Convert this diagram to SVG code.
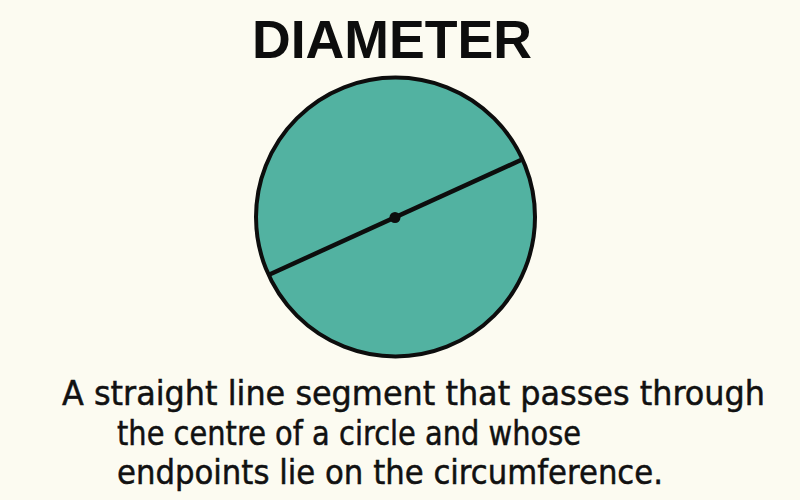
<svg xmlns="http://www.w3.org/2000/svg" width="800" height="500" viewBox="0 0 800 500">
<style>
.title{font-family:"Liberation Sans",Arial,sans-serif;font-weight:bold;font-size:54px;fill:#0d0d0d}
.body{font-family:"DejaVu Sans","Noto Sans",sans-serif;font-size:33px;fill:#111;stroke:#111;stroke-width:0.5}
</style>
<rect width="800" height="500" fill="#fcfbf1"/>
<g id="title"><text class="title" x="392" y="58" text-anchor="middle" textLength="280" lengthAdjust="spacingAndGlyphs">DIAMETER</text></g>
<g id="circle">
<circle cx="395.5" cy="217" r="139.5" fill="#52b2a1" stroke="#0d0d0d" stroke-width="4"/>
</g>
<g id="connectors">
<line x1="269.5" y1="274.5" x2="521" y2="160" stroke="#0d0d0d" stroke-width="4.5"/>
</g>
<g id="centre"><circle cx="395" cy="217.5" r="5.5" fill="#0d0d0d"/></g>
<g id="caption">
<text class="body" x="62" y="405" textLength="703" lengthAdjust="spacingAndGlyphs">A straight line segment that passes through</text>
<text class="body" x="117" y="445" textLength="464" lengthAdjust="spacingAndGlyphs">the centre of a circle and whose</text>
<text class="body" x="117" y="484" textLength="546" lengthAdjust="spacingAndGlyphs">endpoints lie on the circumference.</text>
</g>
</svg>
